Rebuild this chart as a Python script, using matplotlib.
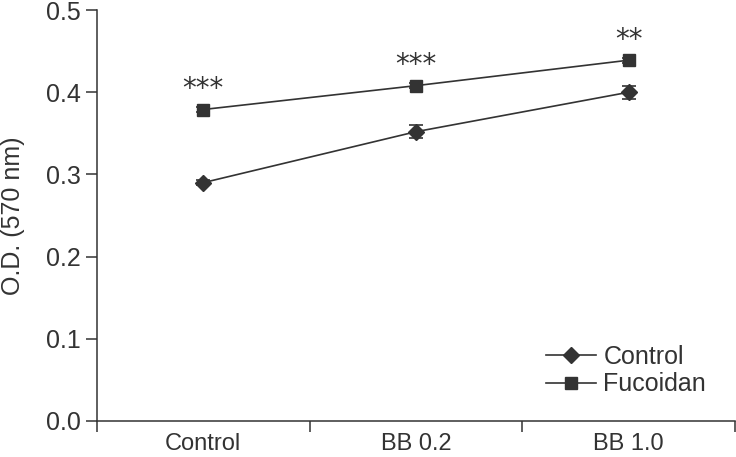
import matplotlib.pyplot as plt
from matplotlib.lines import Line2D

plt.rcParams['font.family'] = ['Liberation Sans', 'DejaVu Sans']

# Data
groups = ['Control', 'BB 0.2', 'BB 1.0']
control_od = [0.290, 0.352, 0.400]
control_err = [0.003, 0.008, 0.008]
fucoidan_od = [0.379, 0.408, 0.439]
fucoidan_err = [0.003, 0.003, 0.003]
stars = ['***', '***', '**']

ink = '#333333'
x = list(range(len(groups)))

fig = plt.figure(figsize=(7.36, 4.57), dpi=100)
ax = fig.add_axes([0.1318, 0.0788, 0.8668, 0.8992])

ax.errorbar(x, control_od, yerr=control_err, color=ink, marker='D', markersize=8.5,
            linewidth=1.2, capsize=5, elinewidth=1.2, capthick=1.2)
ax.errorbar(x, fucoidan_od, yerr=fucoidan_err, color=ink, marker='s', markersize=8.5,
            linewidth=1.2, capsize=5, elinewidth=1.2, capthick=1.2)

# significance marks above the Fucoidan points
for xi, yi, s in zip(x, fucoidan_od, stars):
    ax.text(xi, yi + 0.025, s, ha='center', va='center', fontsize=20,
            color=ink, family='DejaVu Sans')

ax.set_xlim(-0.5, 2.5)
ax.set_ylim(0, 0.5)
ax.set_yticks([0.0, 0.1, 0.2, 0.3, 0.4, 0.5])
ax.set_yticklabels(['0.0', '0.1', '0.2', '0.3', '0.4', '0.5'])
ax.set_xticks([-0.5, 0.5, 1.5, 2.5])
ax.set_xticklabels([])
ax.set_xticks(x, minor=True)
ax.set_xticklabels(groups, minor=True)
ax.tick_params(axis='x', which='minor', length=0, pad=9)
ax.tick_params(axis='both', which='major', length=8, width=1.1, color=ink)
ax.tick_params(labelsize=18, labelcolor=ink)
ax.tick_params(axis='x', which='minor', labelsize=17, labelcolor=ink)

for side in ['top', 'right']:
    ax.spines[side].set_visible(False)
for side in ['left', 'bottom']:
    ax.spines[side].set_color(ink)
    ax.spines[side].set_linewidth(1.1)

ax.set_ylabel('O.D. (570 nm)', fontsize=18, color=ink, va='center')
ax.yaxis.set_label_coords(-0.131, 0.5)

handles = [Line2D([], [], color=ink, marker='D', markersize=8.5, linewidth=1.2),
           Line2D([], [], color=ink, marker='s', markersize=8.5, linewidth=1.2)]
ax.legend(handles, ['Control', 'Fucoidan'], loc='lower right',
          bbox_to_anchor=(0.99, 0.005), frameon=False, fontsize=18,
          handlelength=2.0, handletextpad=0.3, labelspacing=0.15,
          labelcolor=ink)

fig.savefig('out.png', dpi=100)
